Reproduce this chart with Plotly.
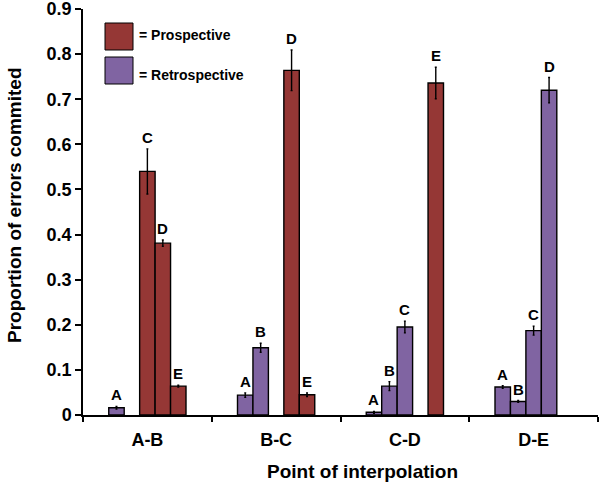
import plotly.graph_objects as go

groups = ["A-B", "B-C", "C-D", "D-E"]
letters = ["A", "B", "C", "D", "E"]
# values[letter][group]; None = no bar
values = {
    "A": [0.016, 0.044, 0.006, 0.062],
    "B": [None, 0.149, 0.064, 0.030],
    "C": [0.540, None, 0.195, 0.187],
    "D": [0.381, 0.764, None, 0.720],
    "E": [0.064, 0.045, 0.736, None],
}
errors = {
    "A": [0.003, 0.005, 0.002, 0.003],
    "B": [0, 0.010, 0.010, 0.002],
    "C": [0.050, 0, 0.013, 0.010],
    "D": [0.007, 0.045, 0, 0.028],
    "E": [0.002, 0.004, 0.035, 0],
}
# condition per bar: "P" prospective, "R" retrospective
condition = {
    "A": ["R", "R", "R", "R"],
    "B": ["", "R", "R", "R"],
    "C": ["P", "", "R", "R"],
    "D": ["P", "P", "", "R"],
    "E": ["P", "P", "P", ""],
}
RED = "#953735"
PURPLE = "#8064A2"
colmap = {"P": RED, "R": PURPLE, "": RED}
FONT = "Liberation Sans"

# plot area in pixels
L0, R0, T0, B0 = 83, 598, 9, 415
PW, PH = R0 - L0, B0 - T0
def px(x):
    return (x - L0) / PW
def py(y):
    return (B0 - y) / PH

W = 0.12
fig = go.Figure()
annotations = []
for k, L in enumerate(letters):
    xs, ys, es, cs = [], [], [], []
    for g in range(len(groups)):
        v = values[L][g]
        if v is None:
            continue
        x = g + (k - 2) * W
        xs.append(x); ys.append(v); es.append(errors[L][g]); cs.append(colmap[condition[L][g]])
        annotations.append(dict(x=x, y=v + errors[L][g], text=L, showarrow=False,
                                xref="x", yref="y", yanchor="bottom", yshift=1,
                                font=dict(family=FONT, size=15, color="black", weight="bold")))
    fig.add_trace(go.Bar(x=xs, y=ys, width=W, marker=dict(color=cs, line=dict(color="black", width=1.4)),
                         error_y=dict(type="data", array=es, color="black", thickness=1.4, width=1),
                         showlegend=False))

# legend boxes
fig.add_shape(type="rect", xref="paper", yref="paper", x0=px(105), x1=px(133),
              y0=py(50), y1=py(23), fillcolor=RED, line=dict(color="black", width=1))
fig.add_shape(type="rect", xref="paper", yref="paper", x0=px(105), x1=px(133),
              y0=py(84), y1=py(57), fillcolor=PURPLE, line=dict(color="black", width=1))
annotations.append(dict(xref="paper", yref="paper", x=px(137), y=py(35), xanchor="left",
                        yanchor="middle", text="= Prospective", showarrow=False,
                        font=dict(family=FONT, size=14, color="black", weight="bold")))
annotations.append(dict(xref="paper", yref="paper", x=px(137), y=py(75), xanchor="left",
                        yanchor="middle", text="= Retrospective", showarrow=False,
                        font=dict(family=FONT, size=14, color="black", weight="bold")))
# axis titles
annotations.append(dict(xref="paper", yref="paper", x=px(362), y=py(472), xanchor="center",
                        yanchor="middle", text="Point of interpolation", showarrow=False,
                        font=dict(family=FONT, size=19, color="black", weight="bold")))
annotations.append(dict(xref="paper", yref="paper", x=px(14), y=py(205), xanchor="center",
                        yanchor="middle", text="Proportion of errors commited", showarrow=False,
                        textangle=-90,
                        font=dict(family=FONT, size=19, color="black", weight="bold")))

tickfont = dict(family=FONT, size=18, color="black", weight="bold")
fig.update_layout(
    width=600, height=486,
    margin=dict(l=L0, r=600 - R0, t=T0, b=486 - B0),
    plot_bgcolor="white", paper_bgcolor="white",
    annotations=annotations,
    xaxis=dict(range=[-0.5, 3.5], tickvals=[0, 1, 2, 3], ticktext=groups, ticks="", ticklen=0,
               showline=True, linecolor="black", linewidth=1.5, showgrid=False, zeroline=False,
               tickfont=tickfont, ticklabelstandoff=8, automargin=False,
               ticklabeloverflow="allow",
               minor=dict(tickvals=[-0.5, 0.5, 1.5, 2.5, 3.5], ticks="outside", ticklen=5,
                          tickcolor="black", tickwidth=1.5, showgrid=False)),
    yaxis=dict(range=[0, 0.9], tickvals=[0, 0.1, 0.2, 0.3, 0.4, 0.5, 0.6, 0.7, 0.8, 0.9],
               ticktext=["0", "0.1", "0.2", "0.3", "0.4", "0.5", "0.6", "0.7", "0.8", "0.9"],
               ticks="outside", ticklen=6, tickcolor="black", tickwidth=1.5,
               showline=True, linecolor="black", linewidth=1.5, showgrid=False, zeroline=False,
               tickfont=tickfont, automargin=False, ticklabeloverflow="allow"),
)
fig.write_html("out.html", config={"displayModeBar": False},
               post_script="document.body.style.margin='0';")
